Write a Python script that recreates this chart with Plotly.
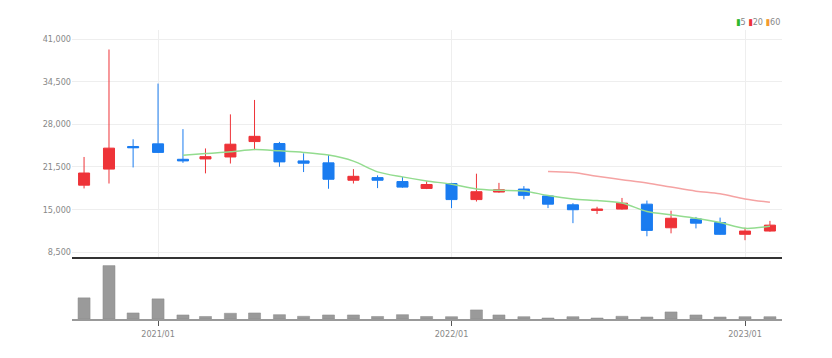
import plotly.graph_objects as go

months = ["2020-10-01", "2020-11-01", "2020-12-01", "2021-01-01", "2021-02-01", "2021-03-01",
          "2021-04-01", "2021-05-01", "2021-06-01", "2021-07-01", "2021-08-01", "2021-09-01",
          "2021-10-01", "2021-11-01", "2021-12-01", "2022-01-01", "2022-02-01", "2022-03-01",
          "2022-04-01", "2022-05-01", "2022-06-01", "2022-07-01", "2022-08-01", "2022-09-01",
          "2022-10-01", "2022-11-01", "2022-12-01", "2023-01-01", "2023-02-01"]

open_ = [18700, 21150, 24600, 25000, 22650, 22700, 23000, 25350, 25050, 22400,
         22100, 19450, 19850, 19250, 18200, 18950, 16500, 17650, 18100, 17050,
         15700, 14850, 15050, 15800, 12200, 13550, 13000, 11200, 11700]
high = [23000, 39400, 25700, 34200, 27250, 24300, 29500, 31700, 25300, 23550,
        23300, 21150, 20200, 19950, 19300, 19050, 20450, 19050, 18550, 17150,
        15950, 15400, 16750, 16350, 14800, 13850, 13750, 12200, 13250]
low = [18200, 18950, 21400, 23600, 22100, 20500, 22000, 24050, 21500, 20700,
       18150, 18950, 18250, 18300, 18100, 15200, 16200, 17550, 16550, 15200,
       12900, 14300, 14950, 10900, 11350, 12100, 11150, 10300, 11600]
close = [20550, 24350, 24400, 23700, 22400, 23050, 24950, 26150, 22250, 22050,
         19600, 20050, 19450, 18400, 18800, 16500, 17700, 18000, 17150, 15800,
         14950, 15050, 15950, 11800, 13650, 12900, 11200, 11700, 12600]

volume = [2100000, 5300000, 600000, 2000000, 400000, 250000, 570000, 600000, 430000, 270000,
          400000, 400000, 250000, 430000, 250000, 230000, 900000, 400000, 230000, 100000,
          230000, 100000, 270000, 200000, 700000, 400000, 200000, 230000, 230000]

ma5_months = months[4:]
ma5 = [23270, 23527, 23782, 24140, 23935, 23700, 23292, 22370, 20732, 19964,
       19350, 18838, 18121, 17916, 17814, 17115, 16599, 16341, 15980, 14690,
       14174, 13658, 12987, 12111, 12420]
ma20_months = months[19:]
ma20 = [20778, 20623, 20055, 19540, 19024, 18405, 17786, 17373, 16600, 16083]

y_ticks = [8500, 15000, 21500, 28000, 34500, 41000]
x_ticks = ["2021-01-01", "2022-01-01", "2023-01-01"]
x_labels = ["2021/01", "2022/01", "2023/01"]

UP = "#ee3338"
DOWN = "#1a7cf0"
FONT = "DejaVu Sans Condensed, Liberation Sans Narrow, sans-serif"

fig = go.Figure()
fig.add_trace(go.Candlestick(
    x=months, open=open_, high=high, low=low, close=close,
    increasing=dict(line=dict(color=UP, width=1), fillcolor=UP),
    decreasing=dict(line=dict(color=DOWN, width=1), fillcolor=DOWN),
    xaxis="x", yaxis="y", showlegend=False))
fig.add_trace(go.Scatter(x=ma5_months, y=ma5, mode="lines",
                         line=dict(color="#93dc8f", width=1.5, shape="spline", smoothing=0.8),
                         xaxis="x", yaxis="y", showlegend=False))
fig.add_trace(go.Scatter(x=ma20_months, y=ma20, mode="lines",
                         line=dict(color="#f5a3a3", width=1.5, shape="spline"),
                         xaxis="x", yaxis="y", showlegend=False))
fig.add_trace(go.Bar(x=months, y=volume, width=15 * 86400000,
                     marker=dict(color="#9a9a9a", line=dict(color="#8a8a8a", width=0.5)),
                     xaxis="x2", yaxis="y2", showlegend=False))

xr = ["2020-09-16", "2023-02-16"]
fig.update_layout(
    width=824, height=350,
    margin=dict(l=64, r=50, t=22, b=39),
    paper_bgcolor="white", plot_bgcolor="white",
    font=dict(family=FONT, size=9, color="#888888"),
    xaxis=dict(type="date", range=xr, domain=[0, 1], anchor="y",
               tickvals=x_ticks, showticklabels=False, ticks="",
               showgrid=True, gridcolor="#eeeeee", gridwidth=1,
               showline=True, linecolor="#333333", linewidth=2,
               rangeslider=dict(visible=False), zeroline=False),
    yaxis=dict(range=[7737, 42373], domain=[0.2145, 1], anchor="x",
               tickvals=y_ticks, tickformat=",d",
               showgrid=True, gridcolor="#eeeeee", gridwidth=1,
               zeroline=False, showline=False, ticks="", ticklen=0),
    xaxis2=dict(type="date", range=xr, domain=[0, 1], anchor="y2",
                tickvals=x_ticks, ticktext=x_labels,
                ticks="outside", ticklen=5, tickcolor="#555555",
                showgrid=False, showline=True, linecolor="#999999", linewidth=2,
                zeroline=False),
    yaxis2=dict(range=[0, 5650000], domain=[0, 0.197], anchor="x2",
                showticklabels=False, showgrid=False, zeroline=False, showline=False),
    annotations=[dict(
        xref="paper", yref="paper", x=1, y=1.028, xanchor="right", yanchor="middle",
        showarrow=False, font=dict(family=FONT, size=9, color="#888888"),
        text="<span style='color:#2db82d'>▮</span>5 "
             "<span style='color:#ee3338'>▮</span>20 "
             "<span style='color:#f39a2e'>▮</span>60")],
)

fig.write_html("out.html")
